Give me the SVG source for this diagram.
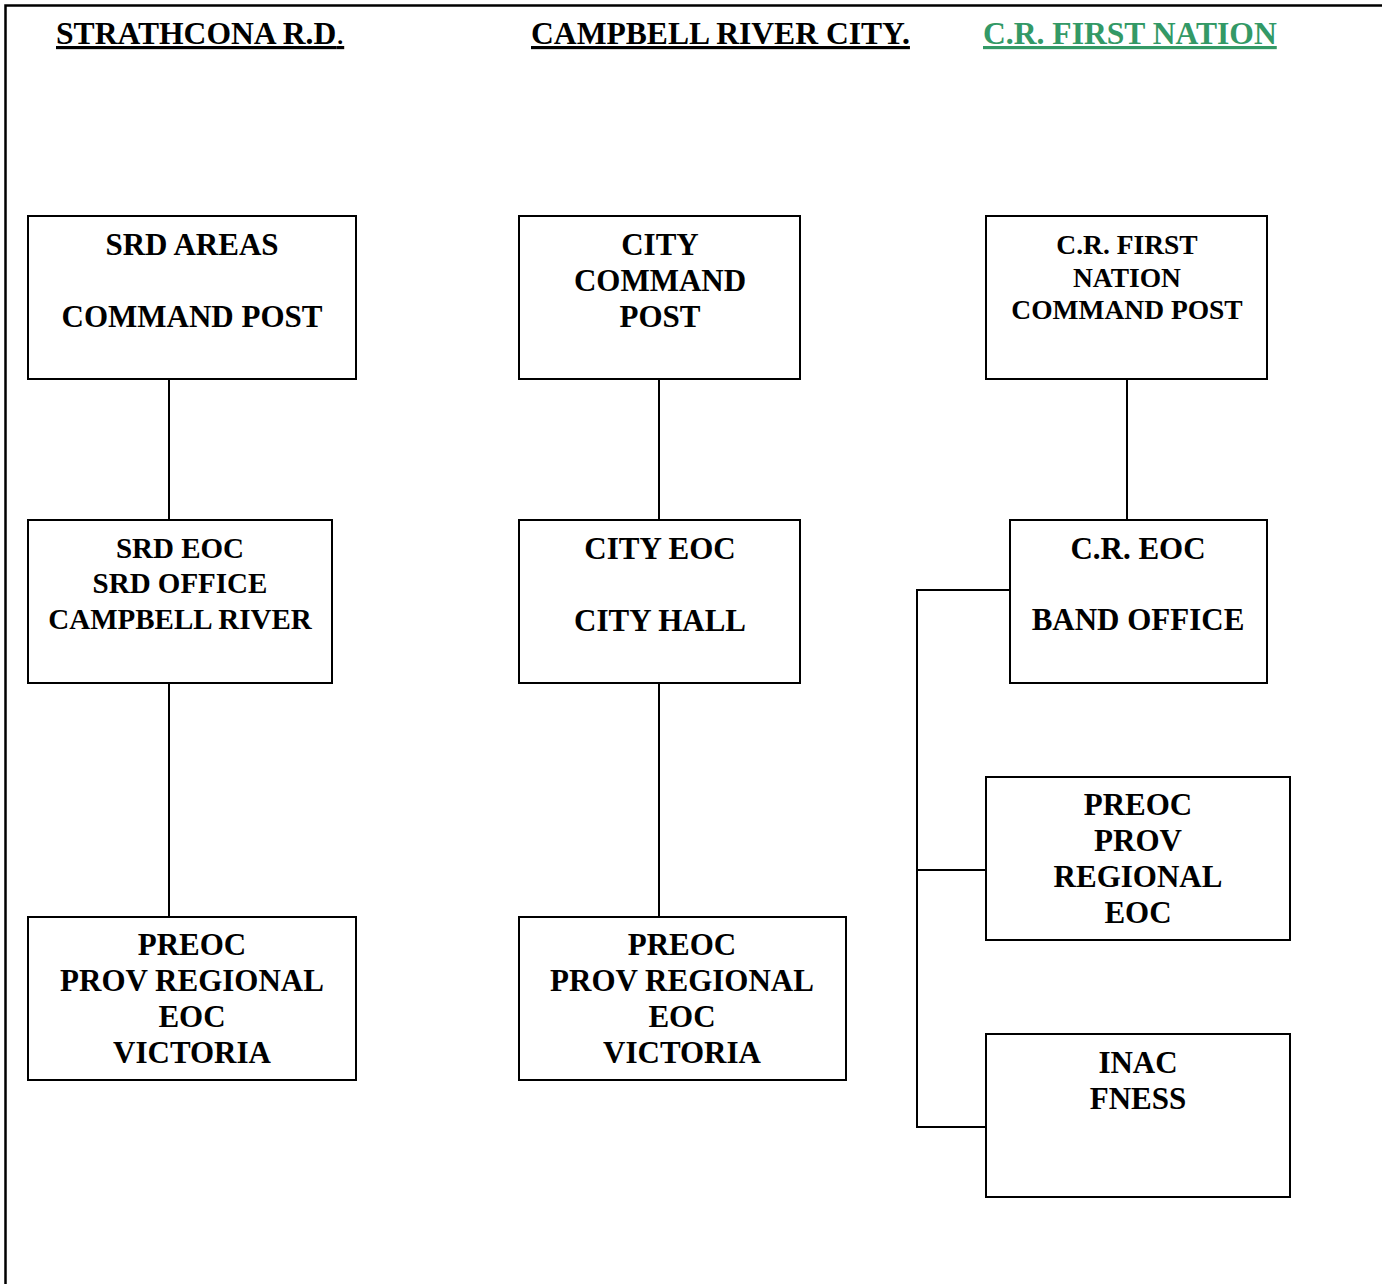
<svg xmlns="http://www.w3.org/2000/svg" width="1382" height="1284" viewBox="0 0 1382 1284">
<style>
  .box { fill: #ffffff; stroke: #000000; stroke-width: 2; }
  .conn { fill: none; stroke: #000000; stroke-width: 2; }
  .frame { fill: none; stroke: #000000; stroke-width: 2.5; }
  text { font-family: "Liberation Serif", "Times New Roman", serif; font-weight: bold; fill: #000000; }
  .lbl { font-size: 31px; text-anchor: middle; }
  .lbl-s { font-size: 29px; text-anchor: middle; }
  .lbl-xs { font-size: 27.5px; text-anchor: middle; }
  .hdr { font-size: 31.6px; text-decoration: underline; }
  .green { fill: #339966; }
</style>
<rect x="0" y="0" width="1382" height="1284" fill="#ffffff"/>
<path class="frame" d="M5.5,1284 V5.5 H1382"/>

<g id="headers">
  <text class="hdr" x="56" y="44">STRATHCONA R.D<tspan font-weight="normal">.</tspan></text>
  <text class="hdr" x="531" y="44">CAMPBELL RIVER CITY.</text>
  <text class="hdr green" x="983" y="44">C.R. FIRST NATION</text>
</g>

<g id="connectors">
  <line class="conn" x1="169" y1="379" x2="169" y2="520"/>
  <line class="conn" x1="169" y1="683" x2="169" y2="917"/>
  <line class="conn" x1="659" y1="379" x2="659" y2="520"/>
  <line class="conn" x1="659" y1="683" x2="659" y2="917"/>
  <line class="conn" x1="1127" y1="379" x2="1127" y2="520"/>
  <path class="conn" d="M1010,590 H917 V1127 H986"/>
  <line class="conn" x1="917" y1="870" x2="986" y2="870"/>
</g>

<g id="srd-command-post">
  <rect class="box" x="28" y="216" width="328" height="163"/>
  <text class="lbl" x="192" y="255">SRD AREAS</text>
  <text class="lbl" x="192" y="327">COMMAND POST</text>
</g>

<g id="city-command-post">
  <rect class="box" x="519" y="216" width="281" height="163"/>
  <text class="lbl" x="660" y="255">CITY</text>
  <text class="lbl" x="660" y="291">COMMAND</text>
  <text class="lbl" x="660" y="327">POST</text>
</g>

<g id="crfn-command-post">
  <rect class="box" x="986" y="216" width="281" height="163"/>
  <text class="lbl-xs" x="1127" y="254">C.R. FIRST</text>
  <text class="lbl-xs" x="1127" y="287">NATION</text>
  <text class="lbl-xs" x="1127" y="319">COMMAND POST</text>
</g>

<g id="srd-eoc">
  <rect class="box" x="28" y="520" width="304" height="163"/>
  <text class="lbl-s" x="180" y="558">SRD EOC</text>
  <text class="lbl-s" x="180" y="593">SRD OFFICE</text>
  <text class="lbl-s" x="180" y="629">CAMPBELL RIVER</text>
</g>

<g id="city-eoc">
  <rect class="box" x="519" y="520" width="281" height="163"/>
  <text class="lbl" x="660" y="559">CITY EOC</text>
  <text class="lbl" x="660" y="631">CITY HALL</text>
</g>

<g id="cr-eoc">
  <rect class="box" x="1010" y="520" width="257" height="163"/>
  <text class="lbl" x="1138" y="559">C.R. EOC</text>
  <text class="lbl" x="1138" y="630">BAND OFFICE</text>
</g>

<g id="preoc-srd">
  <rect class="box" x="28" y="917" width="328" height="163"/>
  <text class="lbl" x="192" y="955">PREOC</text>
  <text class="lbl" x="192" y="991">PROV REGIONAL</text>
  <text class="lbl" x="192" y="1027">EOC</text>
  <text class="lbl" x="192" y="1063">VICTORIA</text>
</g>

<g id="preoc-city">
  <rect class="box" x="519" y="917" width="327" height="163"/>
  <text class="lbl" x="682" y="955">PREOC</text>
  <text class="lbl" x="682" y="991">PROV REGIONAL</text>
  <text class="lbl" x="682" y="1027">EOC</text>
  <text class="lbl" x="682" y="1063">VICTORIA</text>
</g>

<g id="preoc-crfn">
  <rect class="box" x="986" y="777" width="304" height="163"/>
  <text class="lbl" x="1138" y="815">PREOC</text>
  <text class="lbl" x="1138" y="851">PROV</text>
  <text class="lbl" x="1138" y="887">REGIONAL</text>
  <text class="lbl" x="1138" y="923">EOC</text>
</g>

<g id="inac-fness">
  <rect class="box" x="986" y="1034" width="304" height="163"/>
  <text class="lbl" x="1138" y="1073">INAC</text>
  <text class="lbl" x="1138" y="1109">FNESS</text>
</g>
</svg>
